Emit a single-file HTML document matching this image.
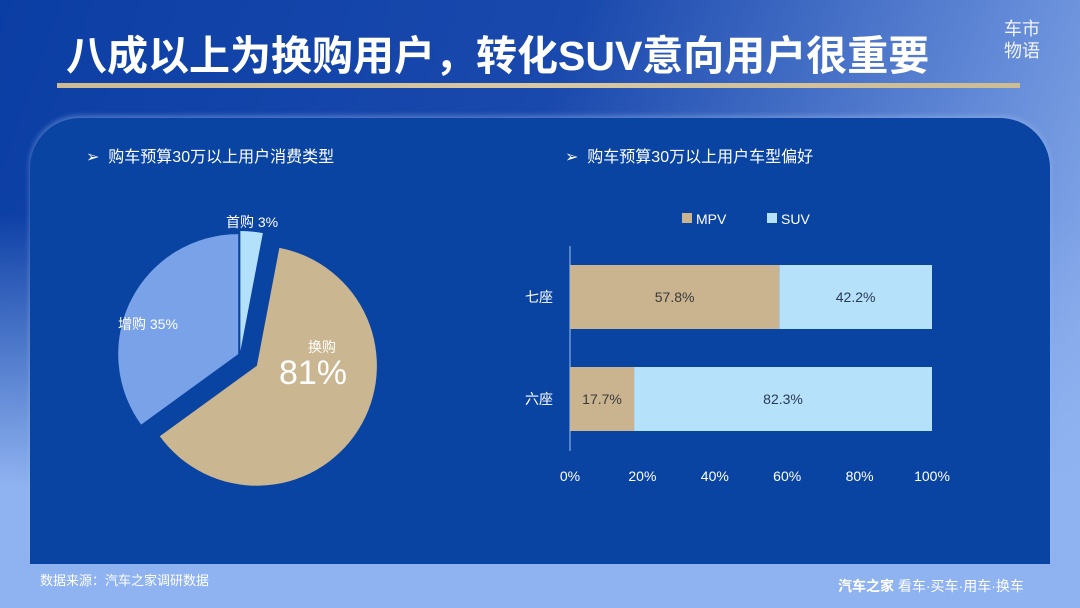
<!DOCTYPE html>
<html><head><meta charset="utf-8"><style>
body{margin:0;width:1080px;height:608px;overflow:hidden;font-family:"Liberation Sans","Noto Sans CJK SC",sans-serif;}
#bg{position:absolute;left:0;top:0;width:1080px;height:608px;background:linear-gradient(180deg,rgba(143,178,240,0) 0%,rgba(143,178,240,0) 35%,rgba(143,178,240,1) 80%),linear-gradient(110deg,#0b3ea4 0%,#1a49ad 45%,#5b83d3 75%,#95b7f2 100%);}
#panel{position:absolute;left:30px;top:118px;width:1020px;height:446px;background:#0a44a2;border-radius:50px 50px 0 0;box-shadow:0 -2px 6px rgba(160,190,240,0.5);}
.t{position:absolute;white-space:nowrap;}
</style></head><body>
<div id="bg"></div>
<div class="t" style="left:66px;top:22px;font-size:41px;font-weight:bold;color:#fff;">八成以上为换购用户，转化SUV意向用户很重要</div>
<div style="position:absolute;left:57px;top:83px;width:963px;height:5px;background:linear-gradient(90deg,#cdbb92,#d8c9a2,#cdbb92);"></div>
<div class="t" style="left:1002px;top:18px;width:40px;font-size:18px;line-height:22px;color:#fff;text-align:center;white-space:normal;opacity:.9;">车市<br>物语</div>
<div id="panel"></div>
<div class="t" style="left:86px;top:143px;font-size:16px;color:#fff;">➢&nbsp; 购车预算30万以上用户消费类型</div>
<div class="t" style="left:565px;top:143px;font-size:16px;color:#fff;">➢&nbsp; 购车预算30万以上用户车型偏好</div>
<div class="t" style="left:40px;top:570px;font-size:13px;color:#fff;">数据来源：汽车之家调研数据</div>
<div class="t" style="left:838px;top:576px;font-size:14px;color:#fff;"><b>汽车之家</b> 看车·买车·用车·换车</div>
<svg id="chart" width="1080" height="608" style="position:absolute;left:0;top:0;"></svg>
<script>
const pieLabels=["首购","换购","增购"];
const pieAngleShares=[3,62,35];
const pieDisplay=["3%","81%","35%"];
const pieColors=["#b3e0fb","#cab690","#7aa2e8"];
const pieExplode=[4,20,2];
const barCats=["七座","六座"];
const mpvVals=[57.8,17.7];
const suvVals=[42.2,82.3];
const ticks=[0,20,40,60,80,100];
const NS="http://www.w3.org/2000/svg";
const svg=document.getElementById('chart');
function mk(t,a,p){const e=document.createElementNS(NS,t);for(const k in a)e.setAttribute(k,a[k]);(p||svg).appendChild(e);return e;}
const cx=240,cy=355,R=120;
const tot=pieAngleShares.reduce((a,b)=>a+b,0);
let a0=0;
function pt(ang,r,ox,oy){const rad=ang*Math.PI/180;return [ox+r*Math.sin(rad),oy-r*Math.cos(rad)];}
pieAngleShares.forEach((v,i)=>{
  const a1=a0+v/tot*360,mid=(a0+a1)/2;
  const [ox,oy]=pt(mid,pieExplode[i],cx,cy);
  const p0=pt(a0,R,ox,oy),p1=pt(a1,R,ox,oy);
  const s=mk('path',{d:`M${ox},${oy}L${p0[0]},${p0[1]}A${R},${R} 0 ${a1-a0>180?1:0} 1 ${p1[0]},${p1[1]}Z`,fill:pieColors[i]});
  
  
  a0=a1;
});
function txt(x,y,s,opt){const e=mk('text',Object.assign({x:x,y:y,fill:'#fff','font-size':14,'font-family':'Liberation Sans, Noto Sans CJK SC, sans-serif'},opt||{}));e.textContent=s;return e;}
let l=txt(226,227,pieLabels[0]+" "+pieDisplay[0]);


l=txt(118,329,pieLabels[2]+" "+pieDisplay[2]);


l=txt(322,352,pieLabels[1],{'text-anchor':'middle'});


l=txt(313,384,pieDisplay[1],{'text-anchor':'middle','font-size':34});


const x0=570,x1=932;
const xs=v=>x0+(x1-x0)*v/100;
const rowTop=[265,367],bh=64;
mk('line',{x1:x0,y1:246,x2:x0,y2:451,stroke:'#9cc2ee','stroke-width':1});
barCats.forEach((c,i)=>{
  const y=rowTop[i];
  let r=mk('rect',{x:xs(0),y:y,width:xs(mpvVals[i])-xs(0),height:bh,fill:'#c9b48f'});
  
  
  r=mk('rect',{x:xs(mpvVals[i]),y:y,width:xs(mpvVals[i]+suvVals[i])-xs(mpvVals[i]),height:bh,fill:'#b5e1fb'});
  
  
  let t=txt(xs(mpvVals[i]/2),y+bh/2+5,mpvVals[i].toFixed(1)+"%",{'text-anchor':'middle',fill:'#3a3a3a'});
  
  
  t=txt(xs(mpvVals[i]+suvVals[i]/2),y+bh/2+5,suvVals[i].toFixed(1)+"%",{'text-anchor':'middle',fill:'#2a3a55'});
  
  
  t=txt(553,y+bh/2+5,c,{'text-anchor':'end'});
  
  
});
ticks.forEach(v=>{
  const t=txt(xs(v),481,v+"%",{'text-anchor':'middle'});
  
  
});
let lg=mk('rect',{x:682,y:213,width:10,height:10,fill:'#c9b48f'});


lg=txt(696,224,"MPV");


lg=mk('rect',{x:767,y:213,width:10,height:10,fill:'#b5e1fb'});


lg=txt(781,224,"SUV");


</script>
</body></html>
